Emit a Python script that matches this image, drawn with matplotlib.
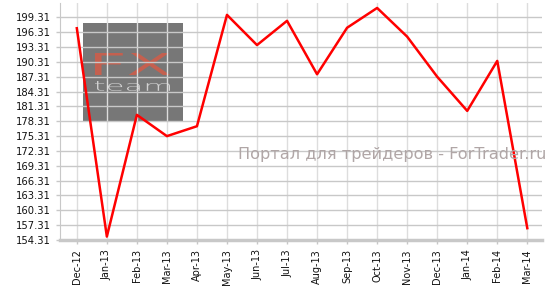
import matplotlib.pyplot as plt
import matplotlib.patches as patches
from matplotlib.textpath import TextPath
from matplotlib.transforms import Affine2D, IdentityTransform
import numpy as np

# данные
months = ['Dec-12', 'Jan-13', 'Feb-13', 'Mar-13', 'Apr-13', 'May-13', 'Jun-13', 'Jul-13',
          'Aug-13', 'Sep-13', 'Oct-13', 'Nov-13', 'Dec-13', 'Jan-14', 'Feb-14', 'Mar-14']
values = [197.1, 155.0, 179.6, 175.3, 177.3, 199.8, 193.7, 198.6,
          187.8, 197.2, 201.2, 195.4, 187.3, 180.4, 190.5, 156.7]
yticks = [154.31, 157.31, 160.31, 163.31, 166.31, 169.31, 172.31, 175.31, 178.31,
          181.31, 184.31, 187.31, 190.31, 193.31, 196.31, 199.31]

W, H = 554, 289
fig = plt.figure(figsize=(W / 100, H / 100), dpi=100)

# логотип — рисуем на фигуре, под осями (zorder < 0)
fig.patches.append(patches.Rectangle((83 / W, 1 - 122 / H), 100 / W, 99 / H,
                                     transform=fig.transFigure, facecolor='#777777',
                                     zorder=-2))


def logo_text(s, x0, x1, y0, y1, color, weight='normal'):
    # текст, растянутый в прямоугольник (пиксели, от верхнего левого угла)
    tp = TextPath((0, 0), s, size=20, prop={'weight': weight})
    ext = tp.get_extents()
    tr = (Affine2D().translate(-ext.x0, -ext.y0)
          .scale((x1 - x0) / ext.width, (y1 - y0) / ext.height)
          .translate(x0, H - y1))
    fig.patches.append(patches.PathPatch(tp, transform=tr + IdentityTransform(),
                                         facecolor=color, lw=0, zorder=-1))


logo_text('FX', 95, 170, 53, 75, '#c4604f', 'normal')
logo_text('team', 95, 170, 81, 91, '#d2d2d2', 'light')

ax = fig.add_axes([60 / W, 49 / H, 482 / W, 237 / H])
ax.set_facecolor('none')

x = np.arange(len(months))
ax.plot(x, values, color='#ff0000', lw=1.8, zorder=5)

ax.set_xlim(-0.56, 15.49)
ax.set_ylim(154.31, 202.2)
ax.set_xticks(x)
ax.set_xticklabels(months, rotation=90, fontsize=7)
ax.set_yticks(yticks)
ax.set_yticklabels(['%.2f' % v for v in yticks], fontsize=7.2)

ax.grid(axis='y', color='#c8c8c8', lw=1)
ax.grid(axis='x', color='#dddddd', lw=1)
for s in ['top', 'right']:
    ax.spines[s].set_visible(False)
ax.spines['left'].set_color('#c8c8c8')
ax.spines['bottom'].set_color('#c8c8c8')
ax.spines['bottom'].set_linewidth(2.5)
ax.tick_params(axis='both', colors='#c8c8c8', labelcolor='#111111', length=3, width=1)

fig.text(546 / W, 1 - 155 / H, 'Портал для трейдеров - ForTrader.ru', color='#b0a6a6',
         fontsize=11.6, ha='right', va='center')

fig.savefig('out.png', dpi=100)
